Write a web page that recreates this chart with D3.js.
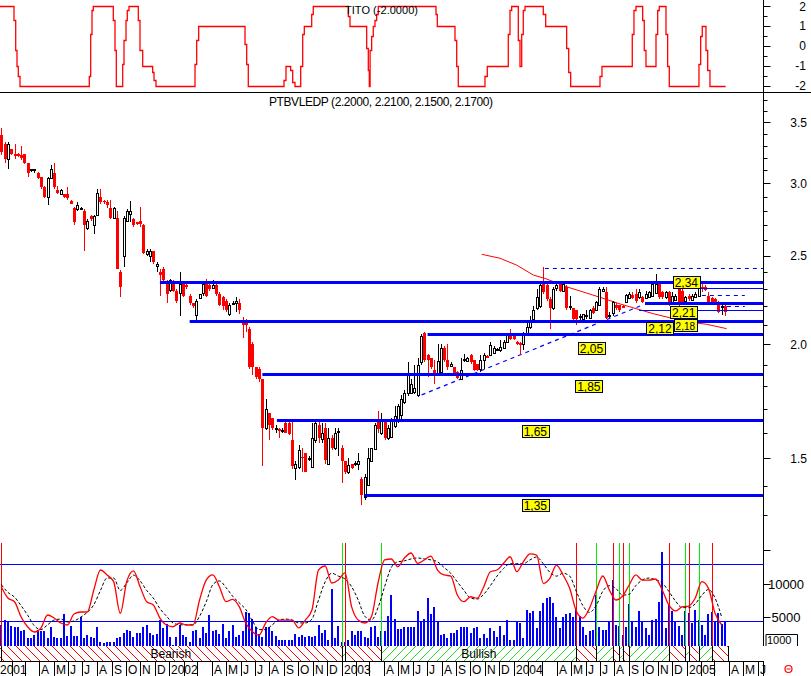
<!DOCTYPE html>
<html><head><meta charset="utf-8">
<script src="https://cdn.jsdelivr.net/npm/d3@7"></script>
<style>body{margin:0;background:#fff}svg{display:block}text{font-family:Arial,"Liberation Sans",sans-serif}</style>
</head><body><svg id="c" width="811" height="676"></svg>
<script>
// ---------- DATA ----------
// weekly candles [open, high, low, close], first week ending 5 Jan 2001
const candles = [
[3.39,3.45,3.22,3.25],[3.31,3.33,3.16,3.19],[3.19,3.33,3.11,3.31],[3.27,3.27,3.22,3.23],[3.23,3.31,3.19,3.22],
[3.23,3.24,3.21,3.22],[3.22,3.30,3.18,3.20],[3.23,3.23,3.15,3.16],[3.16,3.16,3.05,3.08],[3.10,3.11,3.09,3.11],
[3.10,3.11,3.08,3.11],[3.08,3.09,3.03,3.04],[3.05,3.05,2.96,2.97],[2.97,2.98,2.89,2.90],[2.90,3.05,2.84,3.04],
[3.04,3.14,3.03,3.11],[3.08,3.16,2.96,2.97],[2.95,2.98,2.92,2.93],[2.92,2.96,2.91,2.95],[2.92,2.92,2.89,2.90],
[2.92,2.97,2.88,2.89],[2.87,2.88,2.85,2.85],[2.82,2.83,2.70,2.72],[2.81,2.86,2.80,2.84],[2.82,2.83,2.81,2.82],
[2.80,2.81,2.53,2.70],[2.68,2.74,2.67,2.73],[2.76,2.77,2.73,2.74],[2.70,2.77,2.64,2.76],[2.77,2.96,2.76,2.93],
[2.90,2.96,2.85,2.86],[2.87,2.88,2.85,2.86],[2.86,2.88,2.82,2.84],[2.82,2.88,2.74,2.75],[2.75,2.83,2.74,2.82],
[2.75,2.80,2.42,2.42],[2.40,2.41,2.25,2.31],[2.50,2.76,2.43,2.75],[2.73,2.81,2.72,2.80],[2.78,2.87,2.72,2.80],
[2.74,2.75,2.69,2.70],[2.72,2.72,2.70,2.71],[2.73,2.83,2.69,2.71],[2.70,2.71,2.51,2.52],[2.51,2.54,2.50,2.53],
[2.50,2.54,2.46,2.53],[2.53,2.53,2.45,2.46],[2.44,2.46,2.40,2.45],[2.40,2.42,2.26,2.38],[2.42,2.43,2.34,2.35],
[2.34,2.35,2.22,2.27],[2.29,2.36,2.28,2.35],[2.34,2.35,2.28,2.29],[2.29,2.30,2.22,2.23],[2.28,2.40,2.15,2.33],
[2.33,2.34,2.25,2.26],[2.32,2.33,2.30,2.31],[2.26,2.27,2.21,2.22],[2.22,2.22,2.19,2.20],[2.15,2.24,2.12,2.23],
[2.25,2.27,2.24,2.27],[2.28,2.33,2.26,2.33],[2.34,2.36,2.25,2.26],[2.32,2.33,2.29,2.30],[2.30,2.35,2.30,2.32],
[2.32,2.33,2.26,2.27],[2.27,2.28,2.20,2.21],[2.25,2.26,2.18,2.20],[2.23,2.24,2.17,2.18],[2.16,2.22,2.15,2.21],
[2.22,2.23,2.21,2.22],[2.22,2.25,2.17,2.23],[2.22,2.24,2.16,2.18],
[2.11,2.14,2.03,2.10],[2.11,2.13,2.06,2.10],[2.08,2.09,1.88,1.89],[2.00,2.01,1.85,1.89],[1.89,1.89,1.83,1.84],
[1.88,1.89,1.82,1.83],[1.83,1.83,1.47,1.62],[1.62,1.74,1.61,1.70],[1.68,1.68,1.57,1.63],[1.66,1.66,1.61,1.62],
[1.615,1.63,1.60,1.62],[1.615,1.62,1.58,1.61],[1.61,1.62,1.60,1.612],[1.64,1.65,1.60,1.60],[1.64,1.65,1.59,1.595],
[1.57,1.65,1.46,1.47],[1.465,1.49,1.42,1.48],[1.465,1.55,1.46,1.53],[1.505,1.54,1.45,1.50],[1.52,1.52,1.45,1.45],
[1.50,1.51,1.49,1.50],[1.47,1.64,1.465,1.58],[1.57,1.65,1.56,1.64],[1.63,1.65,1.56,1.58],[1.575,1.64,1.56,1.60],
[1.62,1.64,1.48,1.495],[1.48,1.62,1.475,1.58],[1.58,1.59,1.53,1.54],[1.54,1.62,1.53,1.60],[1.60,1.62,1.51,1.605],
[1.54,1.55,1.41,1.49],[1.49,1.49,1.44,1.45],[1.45,1.50,1.44,1.475],[1.48,1.48,1.46,1.465],[1.48,1.49,1.47,1.483],
[1.48,1.52,1.455,1.49],[1.425,1.43,1.333,1.367],[1.36,1.44,1.35,1.43],[1.40,1.54,1.40,1.50],[1.49,1.54,1.49,1.54],
[1.535,1.64,1.53,1.63],[1.65,1.69,1.60,1.615],[1.60,1.68,1.59,1.65],[1.645,1.65,1.57,1.58],[1.58,1.63,1.57,1.62],
[1.585,1.66,1.58,1.65],[1.63,1.71,1.62,1.67],[1.65,1.72,1.64,1.71],[1.67,1.76,1.65,1.74],[1.73,1.78,1.72,1.77],
[1.77,1.91,1.755,1.86],[1.77,1.83,1.765,1.81],[1.77,1.90,1.765,1.79],[1.76,1.93,1.75,1.90],[1.91,2.05,1.90,2.04],
[2.056,2.06,1.91,1.92],[1.945,1.95,1.84,1.92],[1.93,1.93,1.88,1.89],[1.874,1.92,1.81,1.858],[1.858,2.00,1.85,1.915],
[1.865,2.00,1.86,1.98],[1.98,1.99,1.91,1.92],[1.92,2.00,1.875,1.89],[1.895,1.91,1.89,1.905],[1.89,1.89,1.85,1.86],
[1.865,1.87,1.83,1.835],[1.835,1.93,1.83,1.875],[1.92,1.95,1.91,1.925],[1.915,1.935,1.91,1.93],[1.945,1.95,1.905,1.91],
[1.92,1.92,1.87,1.875],[1.905,1.905,1.87,1.875],[1.875,1.945,1.865,1.92],[1.92,1.955,1.88,1.945],[1.94,1.945,1.93,1.935],
[1.945,2.01,1.94,1.995],[1.955,1.99,1.95,1.98],[1.97,1.98,1.965,1.975],[1.97,2.02,1.96,1.985],[1.98,2.02,1.975,2.01],
[2.01,2.055,2.005,2.05],[2.05,2.08,2.02,2.025],[2.04,2.05,2.02,2.025],[2.01,2.015,1.995,2.00],[2.005,2.01,1.946,2.00],
[2.00,2.06,1.97,2.056],[2.056,2.12,2.05,2.09],
[2.09,2.15,2.08,2.12],[2.13,2.20,2.12,2.18],[2.19,2.30,2.18,2.25],[2.20,2.33,2.19,2.32],[2.33,2.43,2.27,2.28],
[2.32,2.33,2.23,2.24],[2.24,2.25,2.08,2.19],[2.19,2.31,2.18,2.30],[2.30,2.34,2.29,2.32],[2.33,2.34,2.28,2.29],
[2.29,2.34,2.28,2.33],[2.31,2.32,2.18,2.19],[2.20,2.26,2.18,2.202],[2.19,2.19,2.12,2.13],[2.18,2.18,2.10,2.13],
[2.14,2.16,2.12,2.145],[2.135,2.16,2.13,2.16],[2.15,2.18,2.13,2.155],[2.135,2.185,2.13,2.18],[2.19,2.20,2.16,2.165],
[2.18,2.23,2.175,2.225],[2.21,2.31,2.20,2.30],[2.29,2.31,2.28,2.30],[2.28,2.31,2.13,2.135],[2.15,2.17,2.135,2.155],
[2.165,2.23,2.15,2.225],[2.21,2.22,2.18,2.19],[2.21,2.21,2.17,2.18],[2.20,2.21,2.19,2.195],[2.225,2.27,2.22,2.265],
[2.25,2.28,2.24,2.27],[2.265,2.28,2.24,2.245],[2.27,2.30,2.22,2.23],[2.25,2.30,2.24,2.28],[2.25,2.26,2.22,2.225],
[2.245,2.285,2.24,2.27],[2.25,2.29,2.245,2.28],[2.26,2.34,2.255,2.33],[2.28,2.39,2.27,2.33],[2.33,2.34,2.24,2.25],
[2.28,2.29,2.24,2.25],[2.25,2.29,2.24,2.28],[2.28,2.29,2.20,2.21],[2.22,2.28,2.21,2.26],[2.24,2.27,2.23,2.26],
[2.30,2.31,2.20,2.21],[2.29,2.30,2.21,2.22],[2.23,2.26,2.22,2.25],[2.26,2.27,2.23,2.24],[2.24,2.27,2.23,2.26],
[2.255,2.28,2.25,2.27],[2.26,2.33,2.25,2.31],[2.31,2.33,2.28,2.30],[2.31,2.32,2.29,2.295],[2.26,2.28,2.21,2.225],
[2.245,2.25,2.22,2.225],[2.24,2.245,2.22,2.225],[2.225,2.23,2.165,2.17],[2.20,2.21,2.155,2.205],[2.20,2.21,2.15,2.17]
];
const volumes = [
3900,4600,4500,3700,3500,3500,3000,3100,1900,2000,2400,3100,2900,2900,1900,3500,2100,2000,1900,5500,
2200,3700,2200,2200,5100,2000,2400,2100,1900,3500,1400,1200,1300,1300,1400,1900,2100,2600,3100,2900,
2100,2600,2600,3500,3900,2600,2400,2500,4600,3400,4000,2100,900,2100,3900,2400,2100,1400,2900,3100,
1900,3600,2600,5300,2900,3100,2500,4000,2000,2900,3900,2100,2400,2900,5800,5700,4800,3600,2500,2100,
3500,3500,3000,2200,1600,1700,1700,1600,1700,2500,2100,2400,2100,2200,2100,2300,3900,2600,3100,1700,
9200,2000,3700,1400,1400,1700,3000,2400,3000,2900,2100,1900,3600,3700,2100,2900,2900,5200,8300,4800,
3200,3200,
3500,3600,3500,3500,6000,4500,4700,7800,5500,6500,4500,2400,2500,2000,2600,2600,3100,3500,3500,3500,
2600,3400,3500,1900,2500,1900,3400,3000,2100,3700,2400,4600,1600,1600,4300,4100,1900,6100,5600,
6000,3400,6000,7100,7800,8000,7100,5000,3400,5000,5500,5700,5000,6300,5200,3500,2400,2900,3100,8300,
3500,3100,3100,4300,10500,3900,3700,2400,3500,7000,4300,3500,6000,4300,3400,2400,4600,4700,7300,
14700,3400,7000,6000,4300,3700,2400,6000,5600,4100,6100,4600,3900,2400,5500,5800,4300,5600,4000,4400
];
// oscillator, one reading every 2 weeks (0-100)
const oscFast = [
55.6,44.1,40.2,24.2,13.7,8.5,12.7,26.3,23.1,17.9,15.8,27.3,29.4,29.4,52.5,73.4,68.2,61.2,28.1,61.9,
72.4,55.9,40.2,36.8,23.1,15.8,14,17.9,15.8,15.8,42,62.9,68.2,55.9,40.2,42.7,35,17.6,8.8,5.3,
17.9,24.5,21,21,21,12.7,21,31.5,73.4,77.6,59.8,62.9,70.3,35,21,17.9,24.5,59.8,83.9,84.9,
76.9,86,91.2,80.4,83.9,88,73.4,68.2,67.1,47.2,40.2,45.4,43.8,55.9,71.6,73.4,80.4,87.3,71.6,82.1,
90.2,89.1,59.5,64.7,78.6,68.2,54.2,30.5,23.1,33.6,51.4,67.1,52.5,42,46.2,57.7,68.2,62.9,62.9,64,
52.5,36.8,30.5,34.7,35.7,44.1,61.2,54.2,28.1,15.8
];
const oscSlow = [
58,50,45,36,26,15,11,16,21,22,19,20,24,29,37,52,65,65,52,60,
68,62,52,44,33,25,18,16,16,16,25,40,58,62,55,46,39,32,20,11,
11,16,21,22,21,18,18,22,42,61,70,67,64,56,42,25,21,34,56,76,
82,83,85,86,85,84,82,76,70,61,52,44,43,48,57,67,75,80,80,80,
84,87,80,71,67,70,67,51,36,29,36,51,57,54,47,48,57,63,65,63,
60,51,41,34,34,38,47,53,44,24
];
const oscLevels = [80, 20];
// TITO indicator steps [week, value]
const titoSteps = [
[-0.4,2],[3.84,1.3],[4.36,-0.2],[4.75,-1],[5.14,-1.5],[5.66,-2],[26.63,-1.5],[27.05,0.6],[27.45,1.8],[27.84,2],
[33.89,1.3],[34.41,-0.2],[34.8,-2],[36.74,-0.9],[37.13,0.3],[37.74,1.3],[38.13,1.8],[38.64,2],[41.46,1.3],[41.97,-0.2],
[42.79,-1],[45.81,-1.3],[46.21,-1.7],[46.81,-2],[58.62,-0.9],[59.13,0.3],[59.73,1],[73.75,0.1],[74.26,-0.9],[74.74,-2],
[85.55,-1.7],[86.15,-1],[87.57,-1.2],[88.18,-1.8],[88.87,-2],[90.6,-1],[91.21,0.6],[91.69,1],[93.93,1.6],[94.41,2],
[105.01,1.5],[105.52,1],[110.57,-0.1],[111.06,-1.2],[111.36,-2],[111.6,-0.2],[112.08,0.5],[112.56,1],[113.08,1.3],[113.59,1.6],
[114.08,2],[131.54,1.6],[131.94,1],[137.29,0.3],[137.81,-1],[138.29,-2],[146.37,-1.5],[147.07,-1],[153.42,0.6],[153.94,1.8],
[154.45,2],[156.45,0.3],[156.96,-1],[157.48,0.6],[157.96,1.8],[158.48,2],[164.01,1.6],[164.74,1],[171.09,-0.1],[171.7,-1.3],
[172.3,-2],[181.17,-1.5],[181.77,-1],[190.94,0.6],[191.45,1.8],[192.06,2],[194.09,1.3],[194.57,-0.2],[195.09,-1],[198.12,0.6],
[198.63,1.8],[199.11,2],[201.14,0.6],[201.65,-1],[202.14,-2],[211.12,-0.9],[211.64,0.5],[212.12,1],[213.24,-0.2],[213.76,-1.2],
[214.45,-2],[219.2,-2]
];
// signals [week, 'buy'|'sell']
const signals = [[0,'sell'],[103,'buy'],[104,'sell'],[115,'buy'],[174,'sell'],[180,'buy'],[185,'sell'],[187,'buy'],
[188,'sell'],[190,'buy'],[202,'sell'],[207,'buy'],[208,'sell'],[211,'buy'],[215,'sell']];
// support / resistance lines: price, starting week, kind
const levelLines = [
{p:2.34,from:48,kind:'major'},{p:2.12,from:57,kind:'major'},{p:2.05,from:129,kind:'major'},
{p:1.855,from:79,kind:'major'},{p:1.652,from:83.4,kind:'major'},{p:1.367,from:110,kind:'major'},
{p:2.217,from:194.8,kind:'major'},{p:2.306,from:210.5,kind:'minor'},{p:2.18,from:193,kind:'minor'}
];
const dashedLevels = [{p:2.422,from:164.5,to:null},{p:2.264,from:212,to:225},{p:2.20,from:219.6,to:225}];
const trendUp = [[127.2,1.76],[193.3,2.202]];
const trendDownW = [145.4,150.9,155.9,161,164.5,171,181.2,187.2,197.3,202.3,207.4,213.4,219.5];
const trendDownP = [2.509,2.484,2.442,2.381,2.361,2.312,2.251,2.214,2.16,2.138,2.117,2.103,2.08];
const levelLabels = [
{t:'2,05',w:178.6,p:1.976,s:12},{t:'1,85',w:177.8,p:1.798,s:12},{t:'1,65',w:161.6,p:1.605,s:12},{t:'1,35',w:161.6,p:1.333,s:12},
{t:'2,18',w:207,p:2.094,s:10},{t:'2,12',w:199.3,p:2.081,s:12},{t:'2,21',w:206.5,p:2.166,s:12},{t:'2,34',w:207.3,p:2.334,s:12}
];
const priceMajor = [3.5,3.0,2.5,2.0,1.5];
const priceMinor = [3.7,3.6,3.4,3.3,3.2,3.1,2.9,2.8,2.7,2.6,2.4,2.3,2.2,2.1,1.9,1.8,1.7,1.6,1.4,1.3];
const titoTicks = [2,1,0,-1,-2];
const volTicks = [15000,10000,5000];
const volLabels = [10000,5000];
const monthLetters = ['J','F','M','A','M','J','J','A','S','O','N','D'];
const firstWeek = new Date(2001,0,5);
const titles = {tito:'TITO (-2.0000)', main:'PTBVLEDP (2.2000, 2.2100, 2.1500, 2.1700)'};

// ---------- LAYOUT ----------
const svg = d3.select('#c');
const AX = 763.5;
const xs = d3.scaleLinear().domain([0,219]).range([1.3,725]);
const ys = d3.scaleLog().domain([1.2,3.77]).range([546.8,92.8]);
const yt = d3.scaleLinear().domain([-2,2]).range([85.5,6]);
const yo = d3.scaleLinear().domain([0,100]).range([640.1,544.6]);
const yv = d3.scaleLinear().domain([0,15000]).range([651,550]);
const BAND_TOP = 646, BAND_BOT = 661;
const R = v => Math.round(v)+0.5;
const BLUE = '#0000ff', RED = '#ff0000', GREEN = '#00ee00';

const defs = svg.append('defs');
const hr = defs.append('pattern').attr('id','hR').attr('patternUnits','userSpaceOnUse').attr('width',9).attr('height',9);
hr.append('path').attr('d','M0,0L9,9M-1,8L1,10M8,-1L10,1').attr('stroke',RED).attr('stroke-width',1);
const hg = defs.append('pattern').attr('id','hG').attr('patternUnits','userSpaceOnUse').attr('width',9).attr('height',9);
hg.append('path').attr('d','M0,9L9,0M-1,1L1,-1M8,10L10,8').attr('stroke','#22dd22').attr('stroke-width',1);
defs.append('clipPath').attr('id','mainClip').append('rect').attr('x',0).attr('y',93).attr('width',763).attr('height',453);
defs.append('clipPath').attr('id','boxClip').append('rect').attr('x',766).attr('y',635).attr('width',31).attr('height',11);

// ---------- TOP PANEL (TITO) ----------
const topG = svg.append('g');
topG.append('path').datum(titoSteps)
  .attr('d', d3.line().x(d=>xs(d[0])).y(d=>R(yt(d[1]))).curve(d3.curveStepAfter))
  .attr('fill','none').attr('stroke',RED).attr('stroke-width',1.3);
topG.append('text').attr('x',345).attr('y',14).attr('font-size',11).attr('textLength',73).text(titles.tito);
topG.append('line').attr('x1',0).attr('x2',811).attr('y1',92.5).attr('y2',92.5).attr('stroke','#000');
d3.range(-2,2.01,0.5).forEach(v=>{
  const major = Number.isInteger(v);
  topG.append('line').attr('x1',AX).attr('x2',AX+(major?7:4)).attr('y1',R(yt(v))).attr('y2',R(yt(v))).attr('stroke','#000');
});
titoTicks.forEach(v=>topG.append('text').attr('x',806).attr('y',yt(v)+4.5).attr('text-anchor','end').attr('font-size',12).text(v));

// ---------- MAIN PANEL ----------
const mainG = svg.append('g').attr('clip-path','url(#mainClip)');
mainG.append('text').attr('x',269).attr('y',106).attr('font-size',12).attr('textLength',224).text(titles.main);

mainG.append('path').datum(trendDownW.map((w,i)=>[w,trendDownP[i]]))
  .attr('d',d3.line().x(d=>xs(d[0])).y(d=>ys(d[1]))).attr('fill','none').attr('stroke',RED).attr('stroke-width',1);
mainG.append('line').attr('x1',xs(trendUp[0][0])).attr('y1',ys(trendUp[0][1])).attr('x2',xs(trendUp[1][0])).attr('y2',ys(trendUp[1][1]))
  .attr('stroke',BLUE).attr('stroke-width',1.2).attr('stroke-dasharray','4,4');
dashedLevels.forEach(d=>{
  mainG.append('line').attr('x1',xs(d.from)).attr('x2',d.to===null?AX:xs(d.to)).attr('y1',R(ys(d.p))).attr('y2',R(ys(d.p)))
   .attr('stroke',BLUE).attr('stroke-width',1).attr('stroke-dasharray','4,4');
});

const cg = mainG.append('g').attr('shape-rendering','crispEdges');
candles.forEach((c,i)=>{
  const [o,h,l,cl] = c;
  const up = cl >= o;
  const cx = Math.round(xs(i));
  const col = up ? '#000' : RED;
  cg.append('line').attr('x1',cx+0.5).attr('x2',cx+0.5).attr('y1',ys(h)).attr('y2',ys(l)).attr('stroke',col);
  const yTop = ys(Math.max(o,cl)), yBot = ys(Math.min(o,cl));
  if (up) {
    cg.append('rect').attr('x',cx-0.5).attr('y',Math.round(yTop)+0.5).attr('width',2)
      .attr('height',Math.max(1,Math.round(yBot-yTop))).attr('fill','#fff').attr('stroke','#000');
  } else {
    cg.append('rect').attr('x',cx-1).attr('y',yTop).attr('width',3)
      .attr('height',Math.max(1.5,yBot-yTop)).attr('fill',RED);
  }
});

levelLines.forEach(d=>{
  mainG.append('line').attr('x1',xs(d.from)).attr('x2',AX).attr('y1',R(ys(d.p))).attr('y2',R(ys(d.p)))
    .attr('stroke',BLUE).attr('stroke-width',d.kind==='major'?3:1);
});
levelLabels.forEach(d=>{
  const cx = xs(d.w), cy = ys(d.p);
  const g = mainG.append('g');
  const t = g.append('text').attr('x',cx).attr('y',cy+d.s*0.37).attr('text-anchor','middle').attr('font-size',d.s).text(d.t);
  const tw = t.node().getComputedTextLength();
  g.insert('rect','text').attr('x',Math.round(cx-tw/2-2)+0.5).attr('y',Math.round(cy-6.5)+0.5)
    .attr('width',Math.round(tw+4)).attr('height',12).attr('fill','#ffff00').attr('stroke','#000050');
});

svg.append('line').attr('x1',AX).attr('x2',AX).attr('y1',0).attr('y2',BAND_TOP).attr('stroke','#000');
priceMinor.forEach(v=>svg.append('line').attr('x1',AX).attr('x2',AX+4).attr('y1',R(ys(v))).attr('y2',R(ys(v))).attr('stroke','#000'));
priceMajor.forEach(v=>{
  svg.append('line').attr('x1',AX).attr('x2',AX+7).attr('y1',R(ys(v))).attr('y2',R(ys(v))).attr('stroke','#000');
  svg.append('text').attr('x',807).attr('y',ys(v)+4.5).attr('text-anchor','end').attr('font-size',12).text(v.toFixed(1));
});

// ---------- LOWER PANEL ----------
const lowG = svg.append('g');
lowG.append('g').attr('shape-rendering','crispEdges').selectAll('rect').data(volumes).join('rect')
  .attr('x',(d,i)=>Math.round(xs(i))-1).attr('width',2)
  .attr('y',d=>Math.min(BAND_TOP-1,yv(d))).attr('height',d=>Math.max(1,BAND_TOP-yv(d))).attr('fill',BLUE);
oscLevels.forEach(v=>lowG.append('line').attr('x1',0).attr('x2',AX).attr('y1',R(yo(v))).attr('y2',R(yo(v))).attr('stroke',BLUE));
signals.forEach(s=>{
  const x = R(xs(s[0]));
  lowG.append('line').attr('x1',x).attr('x2',x).attr('y1',543).attr('y2',BAND_TOP).attr('stroke',s[1]==='buy'?GREEN:RED);
});
lowG.append('path').datum(oscSlow).attr('d',d3.line().x((d,k)=>xs(2*k)).y(d=>yo(d)).curve(d3.curveMonotoneX))
  .attr('fill','none').attr('stroke','#000').attr('stroke-width',1).attr('stroke-dasharray','3,2');
lowG.append('path').datum(oscFast).attr('d',d3.line().x((d,k)=>xs(2*k)).y(d=>yo(d)).curve(d3.curveMonotoneX))
  .attr('fill','none').attr('stroke',RED).attr('stroke-width',1.3);

volTicks.forEach(v=>lowG.append('line').attr('x1',AX).attr('x2',AX+7).attr('y1',R(yv(v))).attr('y2',R(yv(v))).attr('stroke','#000'));
volLabels.forEach(v=>lowG.append('text').attr('x',786).attr('y',yv(v)+5).attr('text-anchor','middle').attr('font-size',13).text(v));
lowG.append('path').attr('d','M766,646V634.5H797.5V646').attr('fill','none').attr('stroke','#000');
lowG.append('text').attr('x',767).attr('y',644).attr('font-size',11).attr('clip-path','url(#boxClip)').text('1000');

const END_W = 219.9;
const segs = signals.map((s,i)=>({a: i===0 ? -0.4 : s[0], b: i<signals.length-1 ? signals[i+1][0] : END_W, type:s[1]}));
const bandG = svg.append('g');
segs.forEach(s=>{
  bandG.append('rect').attr('x',xs(s.a)).attr('y',BAND_TOP).attr('width',xs(s.b)-xs(s.a)).attr('height',BAND_BOT-BAND_TOP)
    .attr('fill',s.type==='buy'?'url(#hG)':'url(#hR)');
  if (xs(s.b)-xs(s.a) > 40) {
    bandG.append('text').attr('x',(xs(s.a)+xs(s.b))/2).attr('y',657.5).attr('text-anchor','middle').attr('font-size',12)
      .text(s.type==='buy'?'Bullish':'Bearish');
  }
});
signals.map(s=>s[0]).concat([END_W]).forEach(w=>{
  bandG.append('line').attr('x1',R(xs(w))).attr('x2',R(xs(w))).attr('y1',BAND_TOP).attr('y2',BAND_BOT).attr('stroke','#000');
});
bandG.append('line').attr('x1',0).attr('x2',AX).attr('y1',BAND_BOT+0.5).attr('y2',BAND_BOT+0.5).attr('stroke','#000');

// ---------- DATE AXIS ----------
const axisG = svg.append('g');
const weekOf = d => (d - firstWeek)/(7*864e5);
for (let y=2001; y<=2005; y++) {
  for (let m=0; m<12; m++) {
    if (y===2005 && m>5) break;
    const tx = Math.round(xs(weekOf(new Date(y,m,1))) - 2.5) + 0.5;
    axisG.append('line').attr('x1',tx).attr('x2',tx).attr('y1',BAND_BOT).attr('y2',676).attr('stroke','#000');
    let lab = null;
    if (m===0) lab = String(y); else if (m>2) lab = monthLetters[m];
    if (lab) axisG.append('text').attr('x',Math.max(0,tx+1.5)).attr('y',674).attr('font-size',12).text(lab);
  }
}
axisG.append('line').attr('x1',AX).attr('x2',AX).attr('y1',BAND_BOT).attr('y2',676).attr('stroke','#000');
svg.append('circle').attr('cx',788.5).attr('cy',669).attr('r',3.5).attr('fill','none').attr('stroke',RED).attr('stroke-width',1.2);
svg.append('line').attr('x1',786.5).attr('x2',790.5).attr('y1',669).attr('y2',669).attr('stroke',RED);
</script></body></html>
